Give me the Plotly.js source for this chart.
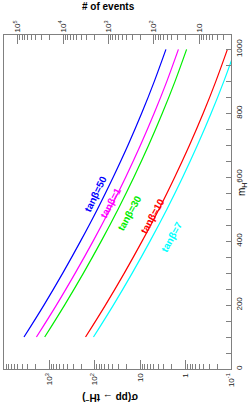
<!DOCTYPE html>
<html><head><meta charset="utf-8">
<script src="https://cdn.plot.ly/plotly-3.0.1.min.js"></script>
<style>html,body{margin:0;padding:0;background:#fff;}#c{width:250px;height:405px;}</style>
</head><body><div id="c"></div>
<script>
// ---- data ----
const mH = [100,200,300,400,500,600,700,800,900,1000];
const sigma_tb50 = [3630,1320,508,206,87.5,39.4,18.6,9.29,4.89,2.71];
const sigma_tb1  = [1930,701,270,109,46.5,20.9,9.89,4.93,2.59,1.44];
const sigma_tb30 = [1270,463,178,72.1,30.7,13.8,6.53,3.26,1.71,0.95];
const sigma_tb10 = [160,58.3,22.4,9.08,3.86,1.74,0.822,0.41,0.216,0.120];
const sigma_tb7  = [107,39.0,15.0,6.07,2.58,1.16,0.55,0.274,0.144,0.080];
const seriesNames = ['tanβ=50','tanβ=1','tanβ=30','tanβ=10','tanβ=7'];
const LUMI = 20; // events = sigma * LUMI
const sigmaTickVals = [1e4,1e3,1e2,10,1,0.1];
const sigmaTickText = ['10<sup>4</sup>','10<sup>3</sup>','10<sup>2</sup>','10','1','10<sup>-1</sup>'];
const eventTickVals = [1e5,1e4,1e3,1e2,10];
const eventTickText = ['10<sup>5</sup>','10<sup>4</sup>','10<sup>3</sup>','10<sup>2</sup>','10'];
const mTickVals = [0,200,400,600,800,1000];

// ---- styling ----
const colors = ['#0000ff','#ff00ff','#00ee00','#ff0000','#00ffff'];
const series = [sigma_tb50, sigma_tb1, sigma_tb30, sigma_tb10, sigma_tb7];
const FONT = 'Liberation Sans, Arial, sans-serif';
const AX = '#808080';
const W=250,H=405, L=4, R=231, T=35, B=369;
const px = x => (x-L)/(R-L);
const py = y => (B-y)/(B-T);

function minorLog(lo, hi){
  const v=[];
  for(let n=-2;n<=7;n++) for(let k=2;k<=9;k++){const t=k*Math.pow(10,n); if(t>=lo*0.999 && t<=hi*1.001) v.push(t);}
  return v;
}

const traces = series.map((s,i)=>({
  x:s, y:mH, type:'scatter', mode:'lines', xaxis:'x', yaxis:'y',
  line:{color:colors[i], width:1.2, shape:'spline'}, name:seriesNames[i],
  hoverinfo:'skip', showlegend:false
}));
traces.push({x:sigma_tb50.map(v=>v*LUMI), y:mH, type:'scatter', mode:'lines', xaxis:'x2', yaxis:'y',
  line:{width:0,color:'rgba(0,0,0,0)'}, opacity:0, hoverinfo:'skip', showlegend:false});

const labelPos = [[95,194,-64],[110,203,-62],[129,213,-61],[152,216,-61],[171,237,-61]];
const annotations = labelPos.map((p,i)=>({
  xref:'paper', yref:'paper', x:px(p[0]), y:py(p[1]), text:'<b>'+seriesNames[i]+'</b>',
  showarrow:false, textangle:p[2], font:{family:FONT,size:10,color:colors[i]}, xanchor:'center', yanchor:'middle'
}));
annotations.push({xref:'paper',yref:'paper',x:px(108),y:py(6),text:'<b># of events</b>',showarrow:false,
  font:{family:FONT,size:10,color:'#000'},xanchor:'center',yanchor:'middle'});
annotations.push({xref:'paper',yref:'paper',x:px(110),y:py(398),text:'<b>σ(pp → tH<sup>−</sup>)</b>',showarrow:false,
  textangle:180,font:{family:FONT,size:10,color:'#000'},xanchor:'center',yanchor:'middle'});
annotations.push({xref:'paper',yref:'paper',x:px(242),y:py(188),text:'m<sub>H<sup>−</sup></sub>',showarrow:false,
  textangle:-90,font:{family:FONT,size:10,color:'#000'},xanchor:'center',yanchor:'middle'});

const layout = {
  width:W, height:H, margin:{l:L, r:W-R, t:T, b:H-B, pad:0},
  paper_bgcolor:'#fff', plot_bgcolor:'#fff', showlegend:false,
  font:{family:FONT, size:8, color:'#222'},
  xaxis:{type:'log', range:[4,-1], autorange:false, side:'bottom',
    tickvals:sigmaTickVals, ticktext:sigmaTickText, tickangle:-90,
    ticks:'inside', ticklen:9, tickcolor:AX, tickwidth:1,
    minor:{tickvals:minorLog(0.1,1e4), ticks:'inside', ticklen:5, tickcolor:AX, tickwidth:1, showgrid:false},
    showline:true, linecolor:AX, linewidth:1, mirror:true, showgrid:false, zeroline:false,
    tickfont:{size:8,color:'#222'}},
  xaxis2:{type:'log', range:[Math.log10(2e5), Math.log10(2)], autorange:false, overlaying:'x', side:'top', anchor:'y',
    tickvals:eventTickVals, ticktext:eventTickText, tickangle:-90,
    ticks:'inside', ticklen:9, tickcolor:AX, tickwidth:1,
    minor:{tickvals:minorLog(2,2e5), ticks:'inside', ticklen:5, tickcolor:AX, tickwidth:1, showgrid:false},
    showline:true, linecolor:AX, linewidth:1, showgrid:false, zeroline:false,
    tickfont:{size:8,color:'#222'}},
  yaxis:{range:[0,1045], autorange:false, side:'right',
    tickvals:mTickVals, tickangle:-90,
    ticks:'inside', ticklen:5, tickcolor:AX, tickwidth:1,
    minor:{dtick:50, ticks:'inside', ticklen:5, tickcolor:AX, tickwidth:1, showgrid:false},
    showline:true, linecolor:AX, linewidth:1, mirror:true, showgrid:false, zeroline:false,
    tickfont:{size:8,color:'#222'}},
  annotations:annotations
};
Plotly.newPlot('c', traces, layout, {staticPlot:true, displayModeBar:false});
</script></body></html>
